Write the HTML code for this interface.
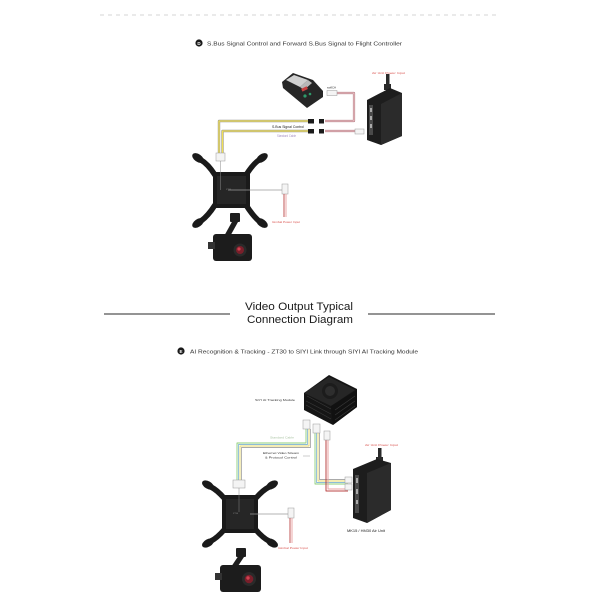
<!DOCTYPE html>
<html><head><meta charset="utf-8"><style>
html,body{margin:0;padding:0;background:#fff;}
svg{display:block;}
text{font-family:"Liberation Sans",sans-serif;}
</style></head><body>
<svg width="600" height="600" viewBox="0 0 600 600" xmlns="http://www.w3.org/2000/svg">
<rect width="600" height="600" fill="#fff"/>
<!-- dashed top line -->
<line x1="100" y1="15" x2="497" y2="15" stroke="#c8c8c8" stroke-width="0.8" stroke-dasharray="4 4"/>
<!-- heading D -->
<circle cx="199" cy="43" r="3.6" fill="#1a1a1a"/>
<text x="199" y="45" font-size="4.5" fill="#fff" text-anchor="middle" font-weight="bold">D</text>
<text x="207" y="45.3" font-size="5.8" fill="#333" textLength="195" lengthAdjust="spacingAndGlyphs">S.Bus Signal Control and Forward S.Bus Signal to Flight Controller</text>

<!-- ===== TOP DIAGRAM ===== -->
<g fill="none" stroke-linejoin="round">
<path d="M309 121 H219 V155" stroke="#9a9a9a" stroke-width="2.4"/>
<path d="M309 121 H219 V155" stroke="#f0df55" stroke-width="1.3"/>
<path d="M309 131 H222.5 V155" stroke="#9a9a9a" stroke-width="2.4"/>
<path d="M309 131 H222.5 V155" stroke="#f0df55" stroke-width="1.3"/>
<path d="M325 121 H354 V93 H337" stroke="#b07a80" stroke-width="2.2"/>
<path d="M325 121 H354 V93 H337" stroke="#f2c6cb" stroke-width="1.1"/>
<path d="M325 131 H355" stroke="#b07a80" stroke-width="2.2"/>
<path d="M325 131 H355" stroke="#f2c6cb" stroke-width="1.1"/>
</g>
<rect x="308" y="119" width="6" height="4.5" fill="#1b1b1b"/>
<rect x="319" y="119" width="5" height="4.5" fill="#1b1b1b"/>
<rect x="308" y="129" width="6" height="4.5" fill="#1b1b1b"/>
<rect x="319" y="129" width="5" height="4.5" fill="#1b1b1b"/>
<rect x="327" y="90.5" width="10" height="5" fill="#f4f4f4" stroke="#999" stroke-width="0.5"/>
<rect x="355" y="129" width="9" height="5" fill="#f4f4f4" stroke="#999" stroke-width="0.5"/>
<text x="327" y="88.5" font-size="2.8" fill="#333">sw8CH</text>
<text x="272" y="128" font-size="3.2" fill="#222" textLength="32" lengthAdjust="spacingAndGlyphs">S.Bus Signal Control</text>
<text x="277" y="137" font-size="3.2" fill="#a58fc4" textLength="19" lengthAdjust="spacingAndGlyphs">Standard Cable</text>
<!-- remote device -->
<path d="M282 82 L293 73 L313 80 L323 91 L323 97 L307 108 L283 88 Z" fill="#262626"/>
<path d="M286 80 L294 75 L308 80 L300 87 Z" fill="#d0d0d0"/>
<path d="M300 87 L308 80 L312 83 L304 90 Z" fill="#b8b8b8"/>
<rect x="301" y="88" width="6" height="3" fill="#c84040" transform="rotate(-25 303 88)"/>
<circle cx="305" cy="96" r="1.6" fill="#2f9a6a"/>
<circle cx="310" cy="94" r="1.3" fill="#2f9a6a"/>
<!-- top air unit -->
<rect x="386" y="74" width="3.5" height="18" fill="#2a2a2a"/>
<rect x="384" y="84" width="7" height="6" fill="#2a2a2a"/>
<path d="M367 100 L390 88 L402 93 L402 136 L381 145 L367 140 Z" fill="#1d1d1d"/>
<path d="M381 104 L402 93 L402 136 L381 145 Z" fill="#2b2b2b"/>
<rect x="369" y="105" width="4" height="30" fill="#4a4a4a"/>
<rect x="370" y="108" width="2" height="4" fill="#aaa"/>
<rect x="370" y="116" width="2" height="4" fill="#aaa"/>
<rect x="370" y="124" width="2" height="4" fill="#aaa"/>
<text x="372" y="74" font-size="3.1" fill="#d9534f" textLength="33" lengthAdjust="spacingAndGlyphs">Air Unit Power Input</text>
<rect x="216" y="153" width="9" height="8" fill="#f4f4f4" stroke="#999" stroke-width="0.5"/>
<!-- gimbal mount top -->
<g fill="#1a1a1a" stroke="#1a1a1a" stroke-linecap="round" stroke-linejoin="round">
<path d="M215 175 Q208 164 201 160 M246 175 Q253 164 259 160 M215 205 Q208 216 201 221 M246 205 Q253 216 259 221" stroke-width="5.5" fill="none"/>
<ellipse cx="198" cy="158" rx="6.5" ry="3.8" transform="rotate(35 198 158)" stroke="none"/>
<ellipse cx="262" cy="158" rx="6.5" ry="3.8" transform="rotate(-35 262 158)" stroke="none"/>
<ellipse cx="198" cy="223" rx="6.5" ry="3.8" transform="rotate(-35 198 223)" stroke="none"/>
<ellipse cx="262" cy="223" rx="6.5" ry="3.8" transform="rotate(35 262 223)" stroke="none"/>
<rect x="213" y="172" width="37" height="36" rx="2" stroke="none"/>
</g>
<rect x="217" y="176" width="29" height="28" fill="#262626"/>
<line x1="228" y1="190" x2="283" y2="190" stroke="#9a9a9a" stroke-width="0.7"/>
<line x1="220.5" y1="161" x2="220.5" y2="190" stroke="#888" stroke-width="0.5"/>
<text x="226" y="190" font-size="2.2" fill="#888">ZT30</text>
<rect x="282" y="184" width="6" height="10" fill="#f4f4f4" stroke="#999" stroke-width="0.5"/>
<line x1="284" y1="194" x2="284" y2="217" stroke="#b44" stroke-width="0.9"/>
<line x1="286" y1="194" x2="286" y2="217" stroke="#e9a0a0" stroke-width="0.9"/>
<text x="272" y="223" font-size="3.1" fill="#d9534f" textLength="28" lengthAdjust="spacingAndGlyphs">Gimbal Power Input</text>
<!-- camera top -->
<rect x="230" y="213" width="10" height="9" rx="1" fill="#1e1e1e"/>
<path d="M233 220 L223 238 L228 240 L238 222 Z" fill="#1e1e1e"/>
<rect x="213" y="234" width="39" height="27" rx="3" fill="#1c1c1c"/>
<rect x="208" y="242" width="7" height="7" fill="#333"/>
<circle cx="240" cy="250" r="6.5" fill="#2a2a2a"/>
<circle cx="240" cy="250" r="4" fill="#7a1f2a"/>
<circle cx="239" cy="249" r="1.6" fill="#d04050"/>

<!-- ===== SECTION TITLE ===== -->
<line x1="104" y1="314" x2="230" y2="314" stroke="#555" stroke-width="1.2"/>
<line x1="368" y1="314" x2="495" y2="314" stroke="#555" stroke-width="1.2"/>
<text x="299" y="310" font-size="11" fill="#1a1a1a" text-anchor="middle" textLength="108" lengthAdjust="spacingAndGlyphs">Video Output Typical</text>
<text x="300" y="323" font-size="11" fill="#1a1a1a" text-anchor="middle" textLength="106" lengthAdjust="spacingAndGlyphs">Connection Diagram</text>

<!-- heading E -->
<circle cx="181" cy="351" r="3.6" fill="#1a1a1a"/>
<text x="181" y="353" font-size="4.5" fill="#fff" text-anchor="middle" font-weight="bold">E</text>
<text x="190" y="353.3" font-size="5.8" fill="#333" textLength="228" lengthAdjust="spacingAndGlyphs">AI Recognition &amp; Tracking - ZT30 to SIYI Link through SIYI AI Tracking Module</text>

<!-- ===== BOTTOM DIAGRAM ===== -->
<g fill="none" stroke-linejoin="round" stroke-width="0.9">
<path d="M306 429 V443 H237 V481" stroke="#8fcf7a"/>
<path d="M307.5 429 V444.5 H238.5 V481" stroke="#8cbcd8"/>
<path d="M309 429 V446 H240 V481" stroke="#e8d86a"/>
<path d="M310.5 429 V447.5 H241.5 V481" stroke="#aaa"/>
<path d="M315 432 V484 H348" stroke="#8fcf7a"/>
<path d="M316.5 432 V482.5 H348" stroke="#8cbcd8"/>
<path d="M318 432 V481 H348" stroke="#e8d86a"/>
<path d="M319.5 432 V479.5 H348" stroke="#aaa"/>
<path d="M326 440 V491 H348" stroke="#b44" stroke-width="1"/>
<path d="M328 440 V489 H348" stroke="#e9a0a0" stroke-width="1"/>
</g>
<rect x="303" y="420" width="7" height="9" fill="#f4f4f4" stroke="#999" stroke-width="0.5"/>
<rect x="313" y="424" width="7" height="9" fill="#f4f4f4" stroke="#999" stroke-width="0.5"/>
<rect x="324" y="431" width="6" height="9" fill="#f4f4f4" stroke="#999" stroke-width="0.5"/>
<rect x="345" y="477" width="7" height="6" fill="#f4f4f4" stroke="#999" stroke-width="0.5"/>
<rect x="345" y="484" width="7" height="6" fill="#f4f4f4" stroke="#999" stroke-width="0.5"/>
<text x="270" y="438.5" font-size="3.1" fill="#a9c3a2" textLength="24" lengthAdjust="spacingAndGlyphs">Standard Cable</text>
<text x="281" y="454" font-size="3.1" fill="#333" text-anchor="middle" textLength="36" lengthAdjust="spacingAndGlyphs">Ethernet Video Stream</text>
<text x="281" y="458.5" font-size="3.1" fill="#333" text-anchor="middle" textLength="32" lengthAdjust="spacingAndGlyphs">&amp; Protocol Control</text>
<line x1="303" y1="456" x2="310" y2="456" stroke="#999" stroke-width="0.5"/>
<text x="255" y="401" font-size="3.1" fill="#333" textLength="40" lengthAdjust="spacingAndGlyphs">SIYI AI Tracking Module</text>
<!-- AI module cube -->
<path d="M304 393 L329 375 L357 389 L357 407 L333 425 L304 410 Z" fill="#151515"/>
<path d="M304 393 L329 377 L355 390 L331 406 Z" fill="#262626"/>
<circle cx="330" cy="391" r="8" fill="#1c1c1c"/>
<circle cx="330" cy="391" r="5" fill="#2e2e2e"/>
<path d="M331 406 L357 390 L357 407 L333 425 Z" fill="#111"/>
<g stroke="#3a3a3a" stroke-width="0.6">
<line x1="307" y1="396" x2="331" y2="409"/><line x1="306" y1="401" x2="331" y2="414"/><line x1="306" y1="405" x2="331" y2="419"/>
<line x1="335" y1="410" x2="355" y2="396"/><line x1="335" y1="415" x2="355" y2="401"/><line x1="335" y1="420" x2="355" y2="406"/>
</g>
<!-- bottom air unit -->
<rect x="378" y="448" width="3.5" height="15" fill="#2a2a2a"/>
<rect x="376" y="457" width="7" height="6" fill="#2a2a2a"/>
<path d="M353 469 L377 459 L391 463 L391 510 L367 523 L353 518 Z" fill="#1d1d1d"/>
<path d="M367 473 L391 463 L391 510 L367 523 Z" fill="#2b2b2b"/>
<rect x="355" y="475" width="4" height="38" fill="#4a4a4a"/>
<rect x="356" y="478" width="2" height="5" fill="#aaa"/>
<rect x="356" y="489" width="2" height="5" fill="#aaa"/>
<rect x="356" y="500" width="2" height="4" fill="#aaa"/>
<text x="365" y="446" font-size="3.1" fill="#d9534f" textLength="33" lengthAdjust="spacingAndGlyphs">Air Unit Power Input</text>
<text x="347" y="532" font-size="3.2" fill="#222" textLength="38" lengthAdjust="spacingAndGlyphs">MK15 / HM30 Air Unit</text>
<rect x="233" y="480" width="12" height="8" fill="#f4f4f4" stroke="#999" stroke-width="0.5"/>
<!-- gimbal mount bottom -->
<g fill="#1a1a1a" stroke="#1a1a1a" stroke-linecap="round" stroke-linejoin="round">
<path d="M224 498 Q217 490 211 487 M256 498 Q263 490 269 487 M224 530 Q217 538 211 541 M256 530 Q263 538 269 541" stroke-width="5.5" fill="none"/>
<ellipse cx="208" cy="485" rx="6.5" ry="3.8" transform="rotate(30 208 485)" stroke="none"/>
<ellipse cx="272" cy="485" rx="6.5" ry="3.8" transform="rotate(-30 272 485)" stroke="none"/>
<ellipse cx="208" cy="543" rx="6.5" ry="3.8" transform="rotate(-30 208 543)" stroke="none"/>
<ellipse cx="272" cy="543" rx="6.5" ry="3.8" transform="rotate(30 272 543)" stroke="none"/>
<rect x="222" y="495" width="36" height="38" rx="2" stroke="none"/>
</g>
<rect x="226" y="499" width="28" height="30" fill="#262626"/>
<line x1="239" y1="488" x2="239" y2="512" stroke="#888" stroke-width="0.5"/>
<line x1="250" y1="514" x2="289" y2="514" stroke="#9a9a9a" stroke-width="0.7"/>
<text x="233" y="514" font-size="2.2" fill="#888">ZT30</text>
<rect x="288" y="508" width="6" height="10" fill="#f4f4f4" stroke="#999" stroke-width="0.5"/>
<line x1="290" y1="518" x2="290" y2="543" stroke="#b44" stroke-width="0.9"/>
<line x1="292" y1="518" x2="292" y2="543" stroke="#e9a0a0" stroke-width="0.9"/>
<text x="278" y="549" font-size="3.1" fill="#d9534f" textLength="30" lengthAdjust="spacingAndGlyphs">Gimbal Power Input</text>
<!-- camera bottom -->
<rect x="236" y="548" width="10" height="9" rx="1" fill="#1e1e1e"/>
<path d="M239 555 L229 570 L234 572 L244 557 Z" fill="#1e1e1e"/>
<rect x="220" y="565" width="41" height="27" rx="3" fill="#1c1c1c"/>
<rect x="215" y="573" width="7" height="7" fill="#333"/>
<circle cx="249" cy="579" r="7" fill="#2a2a2a"/>
<circle cx="249" cy="579" r="4.3" fill="#7a1f2a"/>
<circle cx="248" cy="578" r="1.7" fill="#d04050"/>
</svg>
</body></html>
